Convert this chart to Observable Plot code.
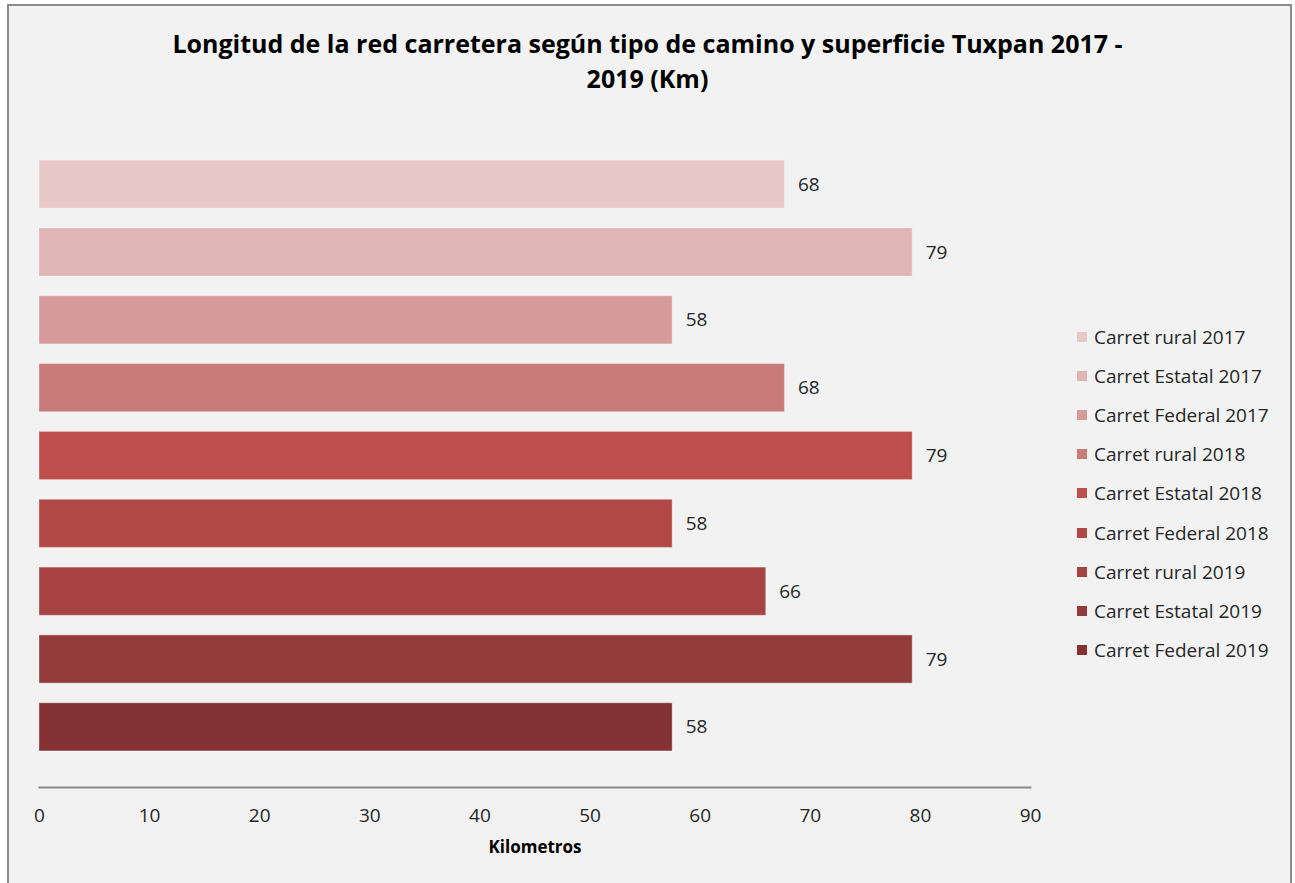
<!DOCTYPE html>
<html>
<head>
<meta charset="utf-8">
<script src="https://cdn.jsdelivr.net/npm/d3@7"></script>
<script src="https://cdn.jsdelivr.net/npm/@observablehq/plot@0.6"></script>
<style>
  html, body { margin: 0; padding: 0; background: #ffffff; width: 1295px; height: 883px; overflow: hidden; }
  #frame { position: absolute; left: 7px; top: 4px; width: 1285px; height: 900px; box-sizing: border-box;
           border: 2px solid #8c8c8c; background: #f2f2f2; }
  #title { position: absolute; left: 0; top: 26px; width: 1295px; text-align: center;
           font-family: "Open Sans", sans-serif; font-weight: bold; font-size: 25px; line-height: 35px; color: #000; }
  #chart { position: absolute; left: 0; top: 130px; }
  #legend { position: absolute; left: 1077px; top: 325px; font-family: "Open Sans", sans-serif; font-size: 19px; color: #262626; }
  .item { height: 39.2px; display: flex; align-items: center; white-space: nowrap; margin-top: -8px; margin-bottom: 8px;}
  .sw { width: 10px; height: 10px; margin-right: 7px; flex: none; }
</style>
</head>
<body>
<div id="frame"></div>
<div id="title">Longitud de la red carretera según tipo de camino y superficie Tuxpan 2017 -<br>2019 (Km)</div>
<div id="chart"></div>
<div id="legend"></div>
<script>
const categories = [
  "Carret rural 2017", "Carret Estatal 2017", "Carret Federal 2017",
  "Carret rural 2018", "Carret Estatal 2018", "Carret Federal 2018",
  "Carret rural 2019", "Carret Estatal 2019", "Carret Federal 2019"
];
const values = [67.7, 79.3, 57.5, 67.7, 79.3, 57.5, 66.0, 79.3, 57.5];
const colors = ["#e7c9ca", "#dfb5b5", "#d49b9a", "#c97b7a", "#bf4f4d", "#b14846", "#a74443", "#943b3b", "#853234"];
const xTicks = [0, 10, 20, 30, 40, 50, 60, 70, 80, 90];
const xLabel = "Kilometros";

const data = categories.map((c, i) => ({cat: c, value: values[i], color: colors[i]}));

const font = "'Open Sans', sans-serif";
const chart = Plot.plot({
  width: 1060,
  height: 750,
  marginLeft: 39,
  marginRight: 30,
  marginTop: 16.5,
  marginBottom: 93,
  style: {background: "transparent", fontFamily: font, fontSize: "19px", color: "#262626"},
  x: {domain: [0, 90]},
  y: {domain: categories, paddingInner: 0.29, paddingOuter: 0.2, insetBottom: 22.5, round: false},
  marks: [
    Plot.barX(data, {x: "value", y: "cat", fill: "color", stroke: "#ffffff", strokeOpacity: 0.35, strokeWidth: 1}),
    Plot.text(data, {x: "value", y: "cat", text: d => String(Math.round(d.value)), dx: 13, textAnchor: "start",
      fill: "#262626", fontSize: 19, fontFamily: font}),
    Plot.frame({anchor: "bottom", stroke: "#8a8a8a", strokeWidth: 2}),
    Plot.axisX({ticks: xTicks, tickSize: 0, tickPadding: 21,
      fill: "#262626", fontSize: 19, label: null}),
    Plot.axisY({ticks: [], label: null, tickSize: 0}),
    Plot.text([xLabel], {frameAnchor: "bottom", dy: 65, fontWeight: "bold", fontSize: 17, fill: "#000", fontFamily: font})
  ]
});
document.getElementById("chart").appendChild(chart);

const legend = document.getElementById("legend");
categories.forEach((c, i) => {
  const row = document.createElement("div");
  row.className = "item";
  const sw = document.createElement("span");
  sw.className = "sw";
  sw.style.background = colors[i];
  const t = document.createElement("span");
  t.textContent = c;
  row.appendChild(sw);
  row.appendChild(t);
  legend.appendChild(row);
});
</script>
</body>
</html>
